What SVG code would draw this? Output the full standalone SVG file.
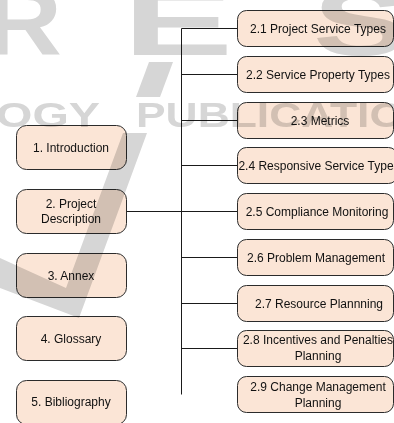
<svg xmlns="http://www.w3.org/2000/svg" width="394" height="423" viewBox="0 0 394 423">
  <style>
    .box { fill: #fbe5d6; stroke: #2b2b2b; stroke-width: 1; }
    .lbl { font-family: "Liberation Sans", Arial, sans-serif; font-size: 12px; fill: #111; text-anchor: middle; dominant-baseline: central; }
    .wire { stroke: #1a1a1a; stroke-width: 1; fill: none; }
    .wm { fill: #d6d6d6; font-family: "Liberation Sans", Arial, sans-serif; font-weight: bold; }
  </style>
  <rect width="394" height="423" fill="#ffffff"/>

  <!-- connectors -->
  <g id="connectors" class="wire">
    <path d="M181.5 28.5 V394.5"/>
    <path d="M126 211.5 H237"/>
    <path d="M181.5 28.5 H237"/>
    <path d="M181.5 74.5 H237"/>
    <path d="M181.5 120.5 H237"/>
    <path d="M181.5 165.5 H237"/>
    <path d="M181.5 257.5 H237"/>
    <path d="M181.5 303.5 H237"/>
    <path d="M181.5 348.5 H237"/>
  </g>

  <!-- main sections -->
  <g id="n1">
    <rect class="box" x="16.5" y="125.5" width="110" height="44" rx="10"/>
    <text class="lbl" x="71" y="147.5">1. Introduction</text>
  </g>
  <g id="n2">
    <rect class="box" x="16.5" y="189.5" width="110" height="44" rx="10"/>
    <text class="lbl" x="71" y="203.5">2. Project</text>
    <text class="lbl" x="71" y="218.5">Description</text>
  </g>
  <g id="n3">
    <rect class="box" x="16.5" y="253.5" width="110" height="44" rx="10"/>
    <text class="lbl" x="71" y="275.5">3. Annex</text>
  </g>
  <g id="n4">
    <rect class="box" x="16.5" y="316.5" width="110" height="44" rx="10"/>
    <text class="lbl" x="71" y="338.5">4. Glossary</text>
  </g>
  <g id="n5">
    <rect class="box" x="16.5" y="380.5" width="110" height="44" rx="10"/>
    <text class="lbl" x="71" y="402">5. Bibliography</text>
  </g>

  <!-- subsections of 2. Project Description -->
  <g id="n2-1">
    <rect class="box" x="237.5" y="10.5" width="156" height="36" rx="9"/>
    <text class="lbl" x="318" y="28.5">2.1 Project Service Types</text>
  </g>
  <g id="n2-2">
    <rect class="box" x="237.5" y="56.5" width="156" height="36" rx="9"/>
    <text class="lbl" x="318" y="74.5">2.2 Service Property Types</text>
  </g>
  <g id="n2-3">
    <rect class="box" x="237.5" y="102.5" width="156" height="36" rx="9"/>
    <text class="lbl" x="320" y="120.5">2.3 Metrics</text>
  </g>
  <g id="n2-4">
    <rect class="box" x="237.5" y="147.5" width="160" height="36" rx="9"/>
    <text class="lbl" x="319" y="165.5">2.4 Responsive Service Types</text>
  </g>
  <g id="n2-5">
    <rect class="box" x="237.5" y="193.5" width="156" height="36" rx="9"/>
    <text class="lbl" x="317" y="211.5">2.5 Compliance Monitoring</text>
  </g>
  <g id="n2-6">
    <rect class="box" x="237.5" y="239.5" width="156" height="36" rx="9"/>
    <text class="lbl" x="316" y="257.5">2.6 Problem Management</text>
  </g>
  <g id="n2-7">
    <rect class="box" x="237.5" y="285.5" width="156" height="36" rx="9"/>
    <text class="lbl" x="319" y="303.5">2.7 Resource Plannning</text>
  </g>
  <g id="n2-8">
    <rect class="box" x="237.5" y="330.5" width="156" height="36" rx="9"/>
    <text class="lbl" x="318" y="340">2.8 Incentives and Penalties</text>
    <text class="lbl" x="318" y="356">Planning</text>
  </g>
  <g id="n2-9">
    <rect class="box" x="237.5" y="376.5" width="156" height="36" rx="9"/>
    <text class="lbl" x="318" y="387">2.9 Change Management</text>
    <text class="lbl" x="318" y="403">Planning</text>
  </g>

  <!-- faint publisher mark laid over the page -->
  <g id="mark" style="mix-blend-mode: multiply">
    <text class="wm" x="-15" y="55" font-size="95" textLength="77" lengthAdjust="spacingAndGlyphs">R</text>
    <text class="wm" x="123" y="55" font-size="95" textLength="110" lengthAdjust="spacingAndGlyphs">E</text>
    <text class="wm" x="313" y="55" font-size="95" textLength="95" lengthAdjust="spacingAndGlyphs">S</text>
    <text class="wm" x="-4" y="127" font-size="35" textLength="104" lengthAdjust="spacingAndGlyphs">OGY</text>
    <text class="wm" x="136" y="127" font-size="35" textLength="268" lengthAdjust="spacingAndGlyphs">PUBLICATIO</text>
    <!-- check stroke, broken where the lettering row runs through it -->
    <polygon fill="#d6d6d6" points="149,62 173,62 160,97 136,97"/>
    <polygon fill="#d6d6d6" points="123,133 147,133 79,318 0,288 0,258 66,288"/>
  </g>
</svg>
